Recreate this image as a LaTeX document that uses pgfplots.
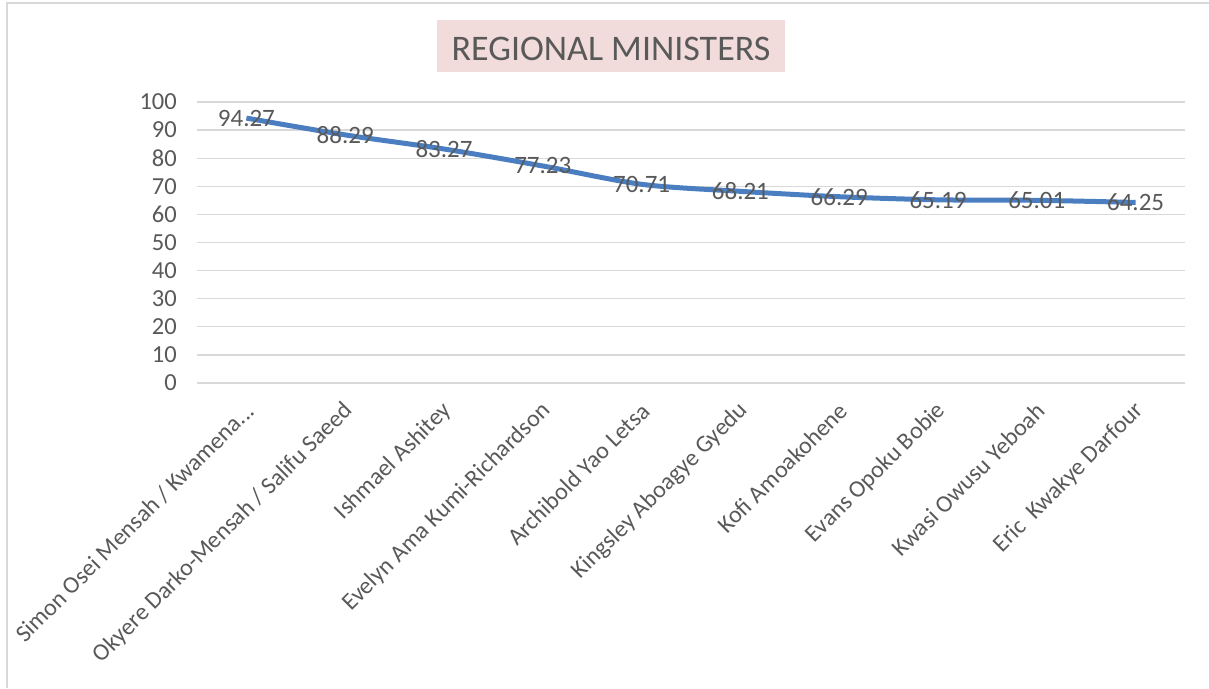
\documentclass[border=0pt]{standalone}
\usepackage{fontspec}
\setmainfont{Carlito}
\usepackage{pgfplots}
\pgfplotsset{compat=1.18}
\definecolor{linecol}{RGB}{74,126,193}
\definecolor{gridcol}{RGB}{217,217,217}
\definecolor{txt}{RGB}{89,89,89}
\definecolor{titlebg}{RGB}{242,220,219}
\newcommand{\threedots}{.{}.{}.}
\begin{document}
\begin{tikzpicture}[x=1pt,y=1pt]
\path[use as bounding box] (0,0) rectangle (1209,688);
\draw[gridcol, line width=2pt] (7,0) -- (7,685) -- (1209,685);
\fill[titlebg] (437,616) rectangle (785,668);
\node[text=txt, font=\fontsize{36}{40}\selectfont, inner sep=0pt] at (611,639.5) {REGIONAL MINISTERS};
\begin{axis}[
  at={(197pt,305pt)}, anchor=south west,
  scale only axis, width=988pt, height=281pt,
  xmin=-0.5, xmax=9.5, ymin=0, ymax=100,
  ytick={0,10,...,100},
  xtick={0,1,2,3,4,5,6,7,8,9},
  xticklabels={{Simon Osei Mensah / Kwamena\threedots},{Okyere Darko-Mensah / Salifu Saeed},{Ishmael Ashitey},{Evelyn Ama Kumi-Richardson},{Archibold Yao Letsa},{Kingsley Aboagye Gyedu},{Kofi Amoakohene},{Evans Opoku Bobie},{Kwasi Owusu Yeboah},{Eric\ \ Kwakye Darfour}},
  axis line style={draw=none},
  ymajorgrids, grid style={gridcol, line width=1.3pt},
  major tick length=0pt,
  tick label style={text=txt},
  yticklabel style={font=\fontsize{24.5}{28}\selectfont, anchor=east, inner sep=0pt, xshift=-20pt},
  xticklabel style={font=\fontsize{24}{28}\selectfont, inner sep=0pt, xshift=4pt, yshift=-24pt, rotate=45, anchor=east},
  /pgf/number format/assume math mode=true,
  clip=false,
  nodes near coords,
  nodes near coords style={font=\fontsize{25}{28}\selectfont, text=txt, anchor=center, /pgf/number format/fixed, /pgf/number format/precision=2, /pgf/number format/fixed zerofill, /pgf/number format/assume math mode=true},
]
\addplot[linecol, line width=5pt, smooth, tension=0.5, no marks] coordinates {
(0,94.27) (1,88.29) (2,83.27) (3,77.23) (4,70.71) (5,68.21) (6,66.29) (7,65.19) (8,65.01) (9,64.25)
};
\end{axis}
\end{tikzpicture}
\end{document}
